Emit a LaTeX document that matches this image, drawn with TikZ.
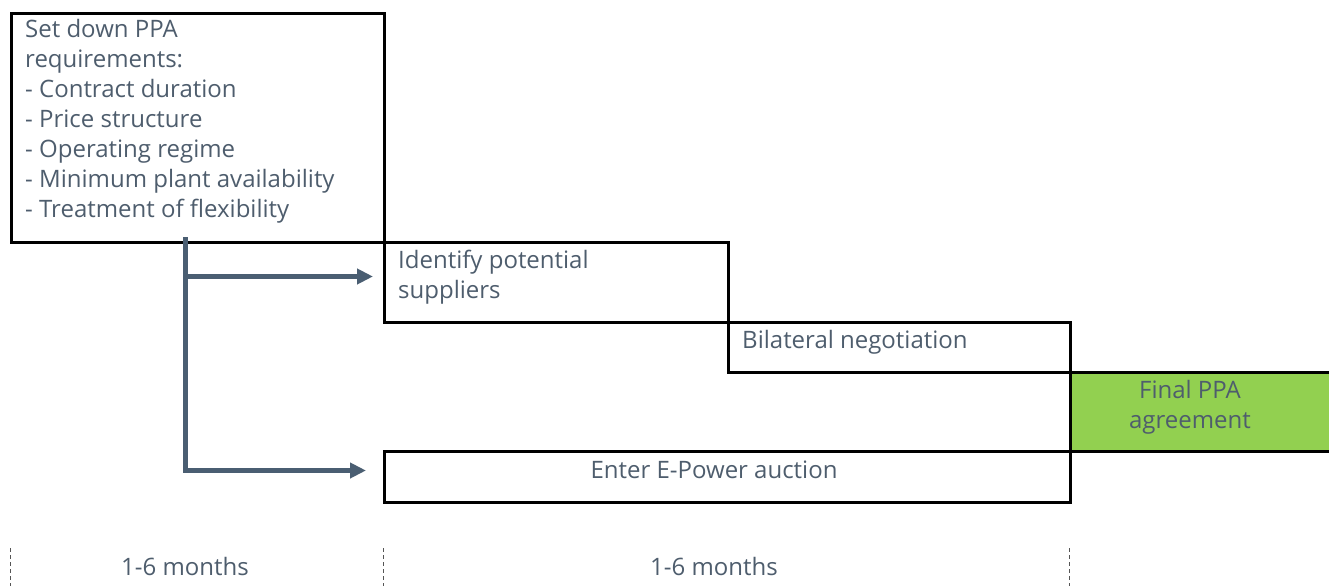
\documentclass[tikz,border=0pt]{standalone}
\usepackage{fontspec}
\setmainfont{Open Sans}
\usetikzlibrary{arrows.meta,calc}
\definecolor{slate}{HTML}{4E5D6D}
\definecolor{flowslate}{HTML}{4A5E72}
\definecolor{ppagreen}{HTML}{92D050}
\definecolor{divider}{HTML}{555555}
\begin{document}
\begin{tikzpicture}[x=1pt,y=-1pt,
  stage/.style={draw=black, line width=3pt, inner sep=0pt, anchor=north west},
  txt/.style={text=slate, font=\fontsize{24}{30}\selectfont, inner sep=0pt},
  flow/.style={draw=flowslate, line width=5pt,
    -{Triangle[length=16pt,width=15pt]}},
  divline/.style={draw=divider, line width=0.8pt, dash pattern=on 4pt off 3pt}]
\useasboundingbox (0,0) rectangle (1329,586);

% phase boxes
\node[stage, minimum width=373pt, minimum height=229pt] (req) at (10,12) {};
\node[stage, minimum width=344pt, minimum height=80pt] (sup) at (383,241) {};
\node[stage, minimum width=342pt, minimum height=50pt] (neg) at (727,321) {};
\node[stage, fill=ppagreen, minimum width=268pt, minimum height=79pt] (fin) at (1069,371) {};
\node[stage, minimum width=686pt, minimum height=51pt] (auc) at (383,450) {};

% box texts
\node[txt, anchor=north west, align=left] (reqtext) at (25,19.5)
  {Set down PPA\\requirements:\\- Contract duration\\- Price structure\\- Operating regime\\- Minimum plant availability\\- Treatment of flexibility};
\node[txt, anchor=north west, align=left] (suptext) at (398,249.5) {Identify potential\\suppliers};
\node[txt, anchor=west] (negtext) at (742,342) {Bilateral negotiation};
\node[txt, align=center] (fintext) at (1190,407) {Final PPA\\agreement};
\node[txt] (auctext) at (714,470) {Enter E-Power auction};

% branching arrows out of the requirements box
\coordinate (tap) at (185,237);
\coordinate (supin) at ([xshift=-10pt,yshift=6pt]sup.west);
\coordinate (aucin) at ([xshift=-17pt,yshift=6.5pt]auc.west);
\draw[flow] (tap) |- (aucin);
\draw[flow] (tap |- supin) -- (supin);

% time axis
\draw[divline] (req.west |- 0,548) -- (req.west |- 0,586);
\draw[divline] (sup.west |- 0,548) -- (sup.west |- 0,586);
\draw[divline] (fin.west |- 0,548) -- (fin.west |- 0,586);
\node[txt] (dur1) at (185,566) {1-6 months};
\node[txt] (dur2) at (714,566) {1-6 months};
\end{tikzpicture}
\end{document}
